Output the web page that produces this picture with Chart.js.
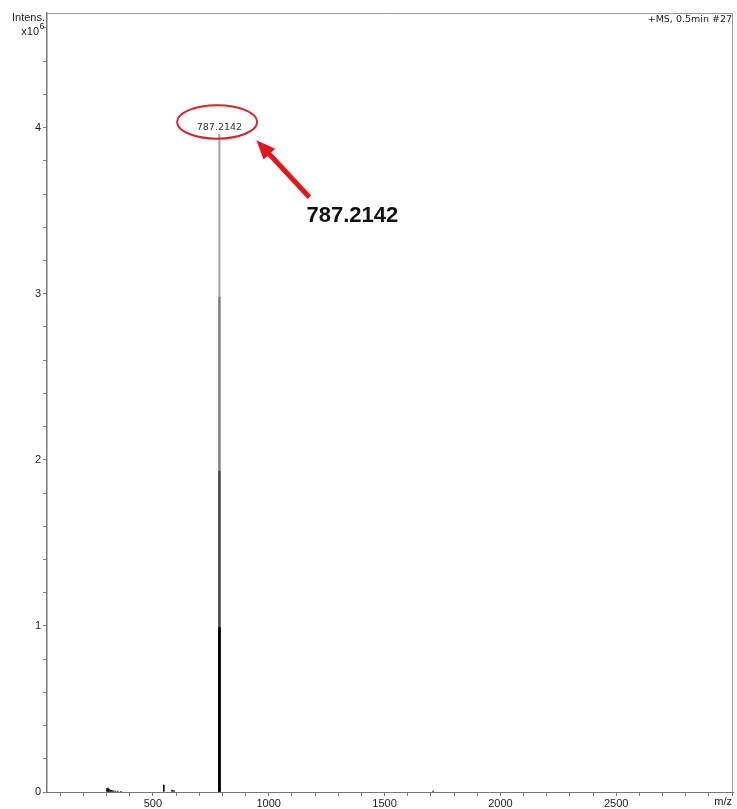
<!DOCTYPE html>
<html>
<head>
<meta charset="utf-8">
<script src="https://cdn.jsdelivr.net/npm/chart.js@4/dist/chart.umd.min.js"></script>
<style>
  html, body { margin: 0; padding: 0; background: #fff; }
  canvas { display: block; }
</style>
</head>
<body>
<canvas id="ms" width="737" height="809"></canvas>
<script>
// Mass spectrum, positive mode, scan #27 at 0.5 min
const scanTitle = '+MS, 0.5min #27';
const yTitle = 'Intens.';
const yScaleBase = 'x10';
const yScaleExp = '6';
const xTitle = 'm/z';
const annotatedMz = 787.2142;
const annotatedLabel = '787.2142';

// Main ion profile (intensity in units of 10^6), tallest first
const mainMz = [787.2142, 787.2142, 787.2142, 787.2142];
const mainIntensity = [3.96, 2.98, 1.93, 0.99];

// Minor ions close to the baseline (units of 10^6)
const minorMz = [302, 306, 310, 315, 321, 328, 337, 348, 362, 547.3, 583, 591, 1709.6];
const minorIntensity = [0.020, 0.024, 0.018, 0.012, 0.010, 0.008, 0.006, 0.005, 0.004, 0.042, 0.012, 0.008, 0.006];

// Axis ranges and tick spacing
const xRange = [43, 3004];
const xMinorStep = 100;
const xLabelStep = 500;
const yRange = [0, 4.69];
const yMinorStep = 0.2;

const toPoints = (xs, ys) => xs.map((v, i) => ({ x: v, y: ys[i] }));

const axisGray = '#777';
const frameGray = '#999';
const tickFont = { family: 'Liberation Sans', size: 11 };

const decor = {
  id: 'decor',
  afterDraw(chart) {
    const { ctx, chartArea: a, scales: { x, y } } = chart;
    ctx.save();

    // top and right edges of the frame
    ctx.strokeStyle = frameGray;
    ctx.lineWidth = 1;
    ctx.beginPath();
    ctx.moveTo(a.left, a.top + 0.5);
    ctx.lineTo(a.right - 0.5, a.top + 0.5);
    ctx.lineTo(a.right - 0.5, a.bottom);
    ctx.stroke();

    // axis titles
    ctx.fillStyle = '#222';
    ctx.font = '11px "Liberation Sans"';
    ctx.textAlign = 'right';
    ctx.textBaseline = 'middle';
    ctx.fillText(yTitle, a.left - 2, 18);
    const expW = 6;
    ctx.fillText(yScaleBase, a.left - 2 - expW, 32);
    ctx.font = '9px "Liberation Sans"';
    ctx.textAlign = 'left';
    ctx.fillText(yScaleExp, a.left - 2 - expW + 0.5, 27);

    ctx.font = '11px "Liberation Sans"';
    ctx.textAlign = 'right';
    ctx.fillText(xTitle, x.getPixelForValue(3000), a.bottom + 10);

    ctx.font = '9.5px "DejaVu Sans"';
    ctx.fillText(scanTitle, a.right - 1, a.top + 7);

    // peak label with its ring
    const px = x.getPixelForValue(annotatedMz);
    const py = y.getPixelForValue(mainIntensity[0]);
    ctx.textAlign = 'center';
    ctx.fillStyle = '#333';
    ctx.font = '9.5px "DejaVu Sans"';
    ctx.fillText(annotatedLabel, px, py - 7);

    ctx.strokeStyle = '#d8242b';
    ctx.lineWidth = 2;
    ctx.beginPath();
    ctx.ellipse(px - 2.3, py - 12.3, 40, 16.7, 0, 0, Math.PI * 2);
    ctx.stroke();

    // arrow pointing at the ring
    const tail = { x: px + 90, y: py + 63 };
    const tip = { x: px + 37, y: py + 6 };
    const ang = Math.atan2(tip.y - tail.y, tip.x - tail.x);
    const headLen = 19, headHalf = 8;
    const bx = tip.x - headLen * Math.cos(ang);
    const by = tip.y - headLen * Math.sin(ang);
    ctx.strokeStyle = '#e3161d';
    ctx.fillStyle = '#e3161d';
    ctx.lineWidth = 5;
    ctx.beginPath();
    ctx.moveTo(tail.x, tail.y);
    ctx.lineTo(bx + 3 * Math.cos(ang), by + 3 * Math.sin(ang));
    ctx.stroke();
    ctx.beginPath();
    ctx.moveTo(tip.x, tip.y);
    ctx.lineTo(bx - headHalf * Math.sin(ang), by + headHalf * Math.cos(ang));
    ctx.lineTo(bx + headHalf * Math.sin(ang), by - headHalf * Math.cos(ang));
    ctx.closePath();
    ctx.fill();

    // enlarged value
    ctx.fillStyle = '#111';
    ctx.font = 'bold 22px "Liberation Sans"';
    ctx.textAlign = 'center';
    ctx.textBaseline = 'middle';
    ctx.fillText(annotatedLabel, px + 133, py + 82);

    ctx.restore();
  }
};

new Chart(document.getElementById('ms'), {
  type: 'bar',
  data: {
    datasets: [
      {
        data: toPoints(mainMz.slice(3), mainIntensity.slice(3)),
        backgroundColor: '#000',
        barThickness: 2,
        grouped: false
      },
      {
        data: toPoints(mainMz.slice(0, 3), mainIntensity.slice(0, 3)),
        backgroundColor: ['#a8a8a8', '#7e7e7e', '#444'],
        barThickness: 1.5,
        grouped: false
      },
      {
        data: toPoints(minorMz, minorIntensity),
        backgroundColor: '#111',
        barThickness: 1,
        grouped: false
      }
    ]
  },
  options: {
    responsive: false,
    animation: false,
    events: [],
    layout: { padding: { top: 13, right: 4, left: 0, bottom: 0 } },
    plugins: { legend: { display: false }, tooltip: { enabled: false } },
    scales: {
      x: {
        type: 'linear',
        offset: false,
        min: xRange[0],
        max: xRange[1],
        afterFit(s) { s.height = 17; },
        border: { display: true, color: axisGray, width: 1 },
        grid: { drawOnChartArea: false, drawTicks: true, tickLength: 4, color: axisGray, offset: false },
        ticks: {
          stepSize: xMinorStep,
          includeBounds: false,
          autoSkip: false,
          maxRotation: 0,
          padding: 1,
          color: '#222',
          font: tickFont,
          callback: v => (v % xLabelStep === 0 && v < 3000) ? String(v) : ''
        }
      },
      y: {
        type: 'linear',
        min: yRange[0],
        max: yRange[1],
        afterFit(s) { s.width = 47; },
        border: { display: true, color: axisGray, width: 1.5 },
        grid: { drawOnChartArea: false, drawTicks: true, tickLength: 4, color: axisGray },
        ticks: {
          stepSize: yMinorStep,
          includeBounds: false,
          autoSkip: false,
          padding: 2,
          color: '#222',
          font: tickFont,
          callback: v => Math.abs(v - Math.round(v)) < 1e-6 ? String(Math.round(v)) : ''
        }
      }
    }
  },
  plugins: [decor]
});
</script>
</body>
</html>
